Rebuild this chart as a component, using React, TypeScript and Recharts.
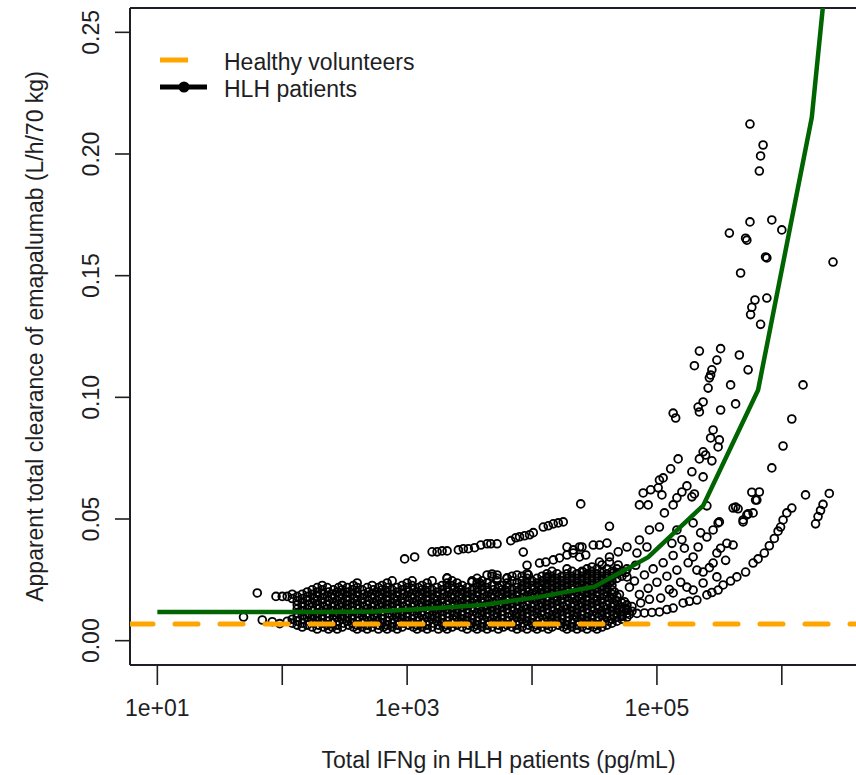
import React from "react";
import { ComposedChart, Scatter, Line, XAxis, YAxis, ReferenceLine } from "recharts";

const WIDTH = 856;
const HEIGHT = 775;
const FONT = '"Liberation Sans", Arial, sans-serif';
const INK = "#1e1e24";

const X_MIN = Math.pow(10, 0.781);
const X_MAX = Math.pow(10, 6.594);
const Y_MIN = -0.01;
const Y_MAX = 0.26;

const xTicks = [1e1, 1e2, 1e3, 1e4, 1e5, 1e6];
const xTickLabels: Record<number, string> = { 10: "1e+01", 1000: "1e+03", 100000: "1e+05" };
const yTicks = [0, 0.05, 0.1, 0.15, 0.2, 0.25];
const yTickLabels = ["0.00", "0.05", "0.10", "0.15", "0.20", "0.25"];

const healthyCl = 0.0068;

// model curve for HLH patients (log10 IFNg, CL)
const curveLogIfn = [1.0, 1.44, 1.87, 2.31, 2.75, 3.19, 3.62, 4.06, 4.5, 4.93, 5.37, 5.81, 6.24, 6.68];
const curveCl = [0.0118, 0.0118, 0.0118, 0.0118, 0.012, 0.0132, 0.0148, 0.018, 0.0222, 0.0343, 0.0555, 0.103, 0.215, 0.44];

// dense cloud, one row per CL level: [CL, log10 IFNg values]
const denseRows: [number, number[]][] = [
  [0.0048, [2.28, 2.37, 2.44, 2.6, 2.68, 2.77, 2.84, 2.92, 3.08, 3.16, 3.25, 3.32, 3.48, 3.56, 3.64, 3.73, 3.88, 3.96, 4.04, 4.13, 4.28, 4.36, 4.44, 4.52]],
  [0.0056, [2.16, 2.24, 2.33, 2.4, 2.48, 2.57, 2.64, 2.72, 2.81, 2.88, 2.96, 3.05, 3.12, 3.2, 3.29, 3.36, 3.44, 3.53, 3.6, 3.68, 3.77, 3.84, 3.92, 4.01, 4.08, 4.16, 4.25, 4.32, 4.4, 4.49, 4.56]],
  [0.0064, [2.12, 2.2, 2.29, 2.36, 2.44, 2.53, 2.6, 2.68, 2.77, 2.84, 2.92, 3.01, 3.08, 3.16, 3.25, 3.32, 3.4, 3.49, 3.56, 3.64, 3.73, 3.8, 3.88, 3.97, 4.04, 4.12, 4.21, 4.28, 4.36, 4.45, 4.52, 4.6]],
  [0.0072, [2.08, 2.16, 2.25, 2.32, 2.4, 2.49, 2.56, 2.64, 2.73, 2.8, 2.88, 2.97, 3.04, 3.12, 3.21, 3.28, 3.36, 3.45, 3.52, 3.6, 3.69, 3.76, 3.84, 3.93, 4.0, 4.08, 4.17, 4.24, 4.32, 4.41, 4.48, 4.56, 4.64]],
  [0.008, [2.04, 2.12, 2.21, 2.28, 2.36, 2.45, 2.52, 2.6, 2.69, 2.76, 2.84, 2.93, 3.0, 3.08, 3.17, 3.24, 3.32, 3.41, 3.48, 3.56, 3.65, 3.72, 3.8, 3.89, 3.96, 4.04, 4.13, 4.2, 4.28, 4.37, 4.44, 4.52, 4.61, 4.68]],
  [0.0088, [2.08, 2.17, 2.24, 2.32, 2.41, 2.48, 2.56, 2.65, 2.72, 2.8, 2.89, 2.96, 3.04, 3.13, 3.2, 3.28, 3.37, 3.44, 3.52, 3.61, 3.68, 3.76, 3.85, 3.92, 4.0, 4.09, 4.16, 4.24, 4.33, 4.4, 4.48, 4.57, 4.64, 4.72]],
  [0.0096, [2.12, 2.2, 2.28, 2.37, 2.44, 2.52, 2.61, 2.68, 2.76, 2.85, 2.92, 3.0, 3.09, 3.16, 3.24, 3.33, 3.4, 3.48, 3.57, 3.64, 3.72, 3.81, 3.88, 3.96, 4.05, 4.12, 4.2, 4.29, 4.36, 4.44, 4.53, 4.6, 4.68, 4.76]],
  [0.0104, [2.16, 2.24, 2.32, 2.41, 2.48, 2.56, 2.64, 2.73, 2.8, 2.88, 2.96, 3.05, 3.12, 3.2, 3.28, 3.37, 3.44, 3.52, 3.6, 3.69, 3.76, 3.84, 3.92, 4.01, 4.08, 4.16, 4.24, 4.33, 4.4, 4.48, 4.56, 4.65, 4.72]],
  [0.0113, [2.12, 2.21, 2.28, 2.36, 2.44, 2.53, 2.6, 2.68, 2.76, 2.85, 2.92, 3.0, 3.08, 3.17, 3.24, 3.32, 3.4, 3.49, 3.56, 3.64, 3.72, 3.81, 3.88, 3.96, 4.04, 4.13, 4.2, 4.28, 4.36, 4.45, 4.52, 4.6, 4.68, 4.76]],
  [0.0121, [2.16, 2.25, 2.32, 2.4, 2.48, 2.57, 2.64, 2.72, 2.8, 2.89, 2.96, 3.04, 3.12, 3.21, 3.28, 3.36, 3.44, 3.53, 3.6, 3.68, 3.76, 3.85, 3.92, 4.0, 4.08, 4.17, 4.24, 4.32, 4.4, 4.49, 4.56, 4.64, 4.72, 4.8]],
  [0.013, [2.12, 2.2, 2.29, 2.36, 2.44, 2.52, 2.61, 2.68, 2.76, 2.84, 2.93, 3.0, 3.08, 3.16, 3.25, 3.32, 3.4, 3.48, 3.57, 3.64, 3.72, 3.8, 3.89, 3.96, 4.04, 4.12, 4.21, 4.28, 4.36, 4.44, 4.53, 4.6, 4.68, 4.76]],
  [0.0138, [2.16, 2.24, 2.33, 2.4, 2.48, 2.56, 2.65, 2.72, 2.8, 2.88, 2.97, 3.04, 3.12, 3.2, 3.29, 3.36, 3.44, 3.52, 3.61, 3.68, 3.76, 3.84, 3.93, 4.0, 4.08, 4.16, 4.25, 4.32, 4.4, 4.48, 4.57, 4.64, 4.72]],
  [0.0147, [2.12, 2.21, 2.28, 2.36, 2.45, 2.52, 2.6, 2.68, 2.77, 2.84, 2.92, 3.0, 3.09, 3.16, 3.24, 3.32, 3.41, 3.48, 3.56, 3.64, 3.73, 3.8, 3.88, 3.96, 4.05, 4.12, 4.2, 4.28, 4.37, 4.44, 4.52, 4.6, 4.69, 4.76]],
  [0.0155, [2.16, 2.24, 2.32, 2.41, 2.48, 2.56, 2.64, 2.73, 2.8, 2.88, 2.96, 3.05, 3.12, 3.2, 3.28, 3.37, 3.44, 3.52, 3.6, 3.69, 3.76, 3.84, 3.92, 4.01, 4.08, 4.16, 4.24, 4.33, 4.4, 4.48, 4.56, 4.65, 4.72]],
  [0.0164, [2.12, 2.2, 2.28, 2.37, 2.44, 2.52, 2.6, 2.69, 2.76, 2.84, 2.92, 3.01, 3.08, 3.16, 3.24, 3.33, 3.4, 3.48, 3.56, 3.65, 3.72, 3.8, 3.88, 3.97, 4.04, 4.12, 4.2, 4.29, 4.36, 4.44, 4.52, 4.61, 4.68]],
  [0.0173, [2.08, 2.16, 2.25, 2.32, 2.4, 2.48, 2.57, 2.64, 2.72, 2.8, 2.89, 2.96, 3.04, 3.12, 3.21, 3.28, 3.36, 3.44, 3.53, 3.6, 3.68, 3.76, 3.85, 3.92, 4.0, 4.08, 4.17, 4.24, 4.32, 4.4, 4.49, 4.56, 4.64]],
  [0.0182, [1.95, 2.0, 2.04, 2.12, 2.2, 2.28, 2.36, 2.45, 2.52, 2.6, 2.68, 2.77, 2.84, 2.92, 3.0, 3.09, 3.16, 3.24, 3.32, 3.41, 3.48, 3.56, 3.64, 3.73, 3.8, 3.88, 3.96, 4.05, 4.12, 4.2, 4.28, 4.37, 4.44, 4.52, 4.6, 4.68]],
  [0.0191, [2.08, 2.16, 2.24, 2.33, 2.4, 2.48, 2.56, 2.65, 2.72, 2.8, 2.88, 2.97, 3.04, 3.12, 3.2, 3.29, 3.36, 3.44, 3.52, 3.61, 3.68, 3.76, 3.84, 3.93, 4.0, 4.08, 4.16, 4.25, 4.32, 4.4, 4.48, 4.57, 4.64]],
  [0.02, [2.2, 2.28, 2.37, 2.44, 2.52, 2.6, 2.69, 2.76, 2.84, 2.92, 3.01, 3.08, 3.16, 3.24, 3.33, 3.4, 3.48, 3.56, 3.65, 3.72, 3.8, 3.88, 3.97, 4.04, 4.12, 4.2, 4.29, 4.36, 4.44, 4.52, 4.6]],
  [0.0209, [2.24, 2.32, 2.41, 2.48, 2.56, 2.64, 2.73, 2.8, 2.88, 2.96, 3.05, 3.12, 3.2, 3.28, 3.37, 3.44, 3.52, 3.6, 3.69, 3.76, 3.84, 3.92, 4.01, 4.08, 4.16, 4.24, 4.33, 4.4, 4.48, 4.56, 4.64]],
  [0.0218, [2.28, 2.36, 2.45, 2.52, 2.6, 2.68, 2.77, 2.84, 2.92, 3.0, 3.09, 3.16, 3.24, 3.32, 3.41, 3.48, 3.56, 3.64, 3.73, 3.8, 3.88, 3.96, 4.05, 4.12, 4.2, 4.28, 4.37, 4.44, 4.52, 4.6]],
  [0.0227, [2.32, 2.48, 2.57, 2.72, 2.8, 2.96, 3.04, 3.12, 3.28, 3.36, 3.44, 3.6, 3.68, 3.76, 3.92, 4.0, 4.08, 4.16, 4.24, 4.32, 4.4, 4.48, 4.56, 4.64]],
  [0.0237, [2.6, 2.84, 3.0, 3.16, 3.32, 3.4, 3.56, 3.64, 3.8, 3.88, 3.96, 4.04, 4.12, 4.2, 4.28, 4.36, 4.44, 4.52, 4.6]],
  [0.0246, [2.88, 3.04, 3.2, 3.36, 3.52, 3.6, 3.72, 3.84, 3.92, 4.0, 4.08, 4.16, 4.24, 4.32, 4.4, 4.48, 4.56, 4.64]],
  [0.0256, [3.32, 3.56, 3.72, 3.8, 3.96, 4.04, 4.12, 4.2, 4.28, 4.36, 4.44, 4.52, 4.6, 4.68]],
  [0.0265, [3.68, 3.84, 3.92, 4.08, 4.16, 4.24, 4.32, 4.4, 4.48, 4.56, 4.64, 4.72]],
  [0.0275, [3.96, 4.12, 4.2, 4.28, 4.36, 4.44, 4.52, 4.6, 4.68]],
  [0.0285, [4.16, 4.32, 4.4, 4.48, 4.56, 4.64, 4.72]],
  [0.0295, [4.28, 4.44, 4.52, 4.6, 4.68, 4.76]],
];

// remaining patients as [log10 IFNg, CL]
const leftStragglers = [
  [1.8, 0.0196], [1.69, 0.0097], [1.84, 0.0085], [1.92, 0.0078], [1.98, 0.007],
];

const upperBand = [
  [2.98, 0.0336], [3.06, 0.0344], [3.2, 0.0365], [3.24, 0.0365], [3.28, 0.0369], [3.32, 0.0369],
  [3.41, 0.0373], [3.45, 0.0378], [3.49, 0.0378], [3.54, 0.0382], [3.59, 0.0393], [3.64, 0.0398],
  [3.67, 0.0398], [3.72, 0.0398], [3.83, 0.0411], [3.87, 0.0423], [3.9, 0.0427], [3.94, 0.0431],
  [3.98, 0.0435], [4.01, 0.0444], [4.09, 0.0467], [4.13, 0.0472], [4.17, 0.048], [4.21, 0.0484],
  [4.25, 0.0488], [4.39, 0.0562],
];

const middleBand = [
  [3.93, 0.0364], [3.96, 0.031], [4.06, 0.0319], [4.11, 0.0323], [4.17, 0.0332], [4.22, 0.034],
  [4.28, 0.0352], [4.33, 0.036], [4.38, 0.0344], [4.43, 0.0352], [4.4, 0.0385], [4.54, 0.0393],
  [4.6, 0.0401], [4.56, 0.0311], [4.62, 0.0323], [4.69, 0.0311], [4.65, 0.0278], [4.76, 0.0262],
  [3.64, 0.027], [3.68, 0.0274], [3.72, 0.027], [3.8, 0.0258], [3.88, 0.027], [3.97, 0.027],
  [4.12, 0.0262], [3.32, 0.0258], [3.52, 0.0241], [3.58, 0.0237],
  [4.28, 0.0385], [4.33, 0.0373], [4.38, 0.0385], [4.49, 0.0393], [4.62, 0.047],
  [4.41, 0.0282], [4.48, 0.0303], [4.54, 0.0323], [4.62, 0.0344], [4.69, 0.0365], [4.76, 0.0385],
  [4.84, 0.036], [4.86, 0.0414], [4.92, 0.0385], [4.94, 0.0455], [5.02, 0.0467],
];

const steepBand = [
  [5.13, 0.0935], [5.15, 0.0915], [5.34, 0.094], [5.41, 0.1038], [5.37, 0.0981], [5.51, 0.0948],
  [5.63, 0.0973], [5.59, 0.1051], [5.45, 0.0866], [5.43, 0.0833], [5.5, 0.0825], [5.49, 0.0796],
  [5.37, 0.0776], [5.39, 0.0763], [5.34, 0.0747], [5.44, 0.0739], [5.17, 0.0747], [5.11, 0.0706],
  [5.05, 0.0669], [5.28, 0.0694], [5.24, 0.0636], [5.37, 0.0673], [5.2, 0.0611], [5.28, 0.0591],
  [5.3, 0.0603], [5.16, 0.0587], [5.13, 0.0558], [5.06, 0.0525], [5.4, 0.0554], [5.63, 0.0549],
  [5.65, 0.0542], [5.73, 0.0521], [5.69, 0.0488], [5.49, 0.0484], [5.29, 0.0484], [5.82, 0.0611],
  [5.79, 0.0578], [4.95, 0.062], [4.89, 0.0607], [5.04, 0.0599], [4.93, 0.0558], [4.86, 0.0558],
  [5.01, 0.0628], [5.02, 0.066], [5.92, 0.071], [6.01, 0.08], [6.08, 0.0911], [6.17, 0.1051],
  [6.19, 0.0599], [5.34, 0.119], [5.51, 0.12], [5.3, 0.113], [5.48, 0.1153], [5.66, 0.1174],
  [5.73, 0.1113], [5.44, 0.1113], [5.43, 0.1092], [5.42, 0.108], [5.785, 0.14], [5.88, 0.1408],
  [5.76, 0.137], [5.75, 0.134], [5.83, 0.13], [5.33, 0.096],
  [5.745, 0.2123], [5.85, 0.2037], [5.83, 0.1992], [5.82, 0.193], [5.745, 0.1721], [5.92, 0.1729],
  [6.0, 0.1688], [5.58, 0.1675], [5.71, 0.1654], [5.72, 0.1646], [5.87, 0.1577], [5.88, 0.1573],
  [5.67, 0.1511], [6.41, 0.1556],
];

const lowerBand = [
  [4.72, 0.01], [4.78, 0.0108], [4.84, 0.0112], [4.9, 0.0114], [4.96, 0.0116], [5.02, 0.0118],
  [5.08, 0.0128], [5.13, 0.0134], [5.21, 0.0155], [5.26, 0.0162], [5.32, 0.0167], [5.4, 0.0188],
  [5.44, 0.0198], [5.49, 0.0208], [5.53, 0.0229], [5.59, 0.0245], [5.64, 0.0262], [5.71, 0.0282],
  [5.77, 0.0319], [5.81, 0.0336], [5.86, 0.036], [5.9, 0.039], [5.94, 0.042], [5.97, 0.045],
  [5.99, 0.0467], [6.01, 0.0496], [6.04, 0.0525], [6.08, 0.0545], [6.27, 0.048], [6.29, 0.051],
  [6.31, 0.0535], [6.33, 0.056], [6.38, 0.0605],
];

const fanPoints = [
  [5.13, 0.0196], [5.24, 0.022], [5.29, 0.0208], [5.37, 0.0237], [5.48, 0.0262], [5.32, 0.029],
  [5.37, 0.0282], [5.29, 0.0344], [5.48, 0.036], [5.51, 0.038], [5.56, 0.04], [5.61, 0.0393],
  [5.45, 0.0319], [5.33, 0.0385], [5.4, 0.0426], [5.35, 0.0443], [5.45, 0.0455], [5.5, 0.0488],
  [5.61, 0.0545], [5.69, 0.0496], [5.72, 0.0517], [5.76, 0.061], [5.8, 0.0578], [5.77, 0.0525],
  [5.42, 0.03], [5.55, 0.033],
  [4.74, 0.016], [4.8, 0.014], [4.87, 0.0155], [4.94, 0.017], [4.7, 0.019], [4.78, 0.022],
  [4.82, 0.0245], [4.86, 0.019], [4.9, 0.027], [4.93, 0.0215], [4.97, 0.0295], [5.0, 0.024],
  [5.03, 0.0175], [5.05, 0.032], [5.08, 0.0265], [5.1, 0.021], [5.13, 0.035], [5.16, 0.029],
  [5.19, 0.024], [5.22, 0.038], [5.25, 0.032], [5.2, 0.0415], [5.16, 0.0455], [5.12, 0.04],
  [4.75, 0.028], [4.83, 0.031], [4.7, 0.013], [4.76, 0.0125], [4.66, 0.02], [4.62, 0.024],
];

const toPoint = (p: number[]) => ({ x: Math.pow(10, p[0]), y: p[1] });

const patientPoints = [
  ...denseRows.flatMap(([cl, xs]) => xs.map((lx) => toPoint([lx, cl]))),
  ...leftStragglers.map(toPoint),
  ...upperBand.map(toPoint),
  ...middleBand.map(toPoint),
  ...steepBand.map(toPoint),
  ...lowerBand.map(toPoint),
  ...fanPoints.map(toPoint),
];

const curveData = curveLogIfn.map((lx, i) => ({ x: Math.pow(10, lx), y: curveCl[i] }));
const healthyData = [
  { x: X_MIN, y: healthyCl },
  { x: X_MAX, y: healthyCl },
];

function OpenCircle(props: any) {
  const { cx, cy } = props;
  if (cx == null || cy == null) return <g />;
  return <circle cx={cx} cy={cy} r={3.9} fill="none" stroke="#000" strokeWidth={1.8} />;
}

function XTick({ x, payload }: any) {
  const label = xTickLabels[payload.value];
  if (!label) return <g />;
  return (
    <text x={x} y={716} textAnchor="middle" fontFamily={FONT} fontSize={23} fill={INK}>
      {label}
    </text>
  );
}

function YTick({ y, payload }: any) {
  const i = yTicks.indexOf(payload.value);
  return (
    <text
      x={99}
      y={y}
      transform={`rotate(-90 99 ${y})`}
      textAnchor="middle"
      fontFamily={FONT}
      fontSize={23}
      fill={INK}
    >
      {yTickLabels[i]}
    </text>
  );
}

export default function App() {
  return (
    <div style={{ position: "relative", width: WIDTH, height: HEIGHT, background: "#fff" }}>
      <style>{`html,body{margin:0;padding:0;overflow:hidden;background:#fff}`}</style>
      <ComposedChart width={WIDTH} height={HEIGHT} margin={{ top: 8, right: 0, bottom: 0, left: 0 }}>
        <XAxis
          dataKey="x"
          type="number"
          scale="log"
          domain={[X_MIN, X_MAX]}
          allowDataOverflow
          ticks={xTicks}
          interval={0}
          height={110}
          tickSize={20}
          tickLine={{ stroke: INK, strokeWidth: 1.6 }}
          axisLine={{ stroke: INK, strokeWidth: 2 }}
          tick={<XTick />}
        />
        <YAxis
          dataKey="y"
          type="number"
          domain={[Y_MIN, Y_MAX]}
          allowDataOverflow
          ticks={yTicks}
          interval={0}
          width={130}
          tickSize={15}
          tickLine={{ stroke: INK, strokeWidth: 1.6 }}
          axisLine={{ stroke: INK, strokeWidth: 2 }}
          tick={<YTick />}
        />
        <ReferenceLine y={Y_MAX} stroke={INK} strokeWidth={2} />
        <Scatter data={patientPoints} dataKey="y" shape={OpenCircle} isAnimationActive={false} />
        <Line
          data={healthyData}
          dataKey="y"
          type="linear"
          stroke="#FFA500"
          strokeWidth={5}
          strokeDasharray="23 22"
          strokeLinecap="round"
          dot={false}
          activeDot={false}
          isAnimationActive={false}
          zIndex={700}
        />
        <Line
          data={curveData}
          dataKey="y"
          type="linear"
          stroke="#006400"
          strokeWidth={4.5}
          dot={false}
          activeDot={false}
          isAnimationActive={false}
          zIndex={700}
        />
      </ComposedChart>
      <svg
        width={WIDTH}
        height={HEIGHT}
        style={{ position: "absolute", left: 0, top: 0, pointerEvents: "none" }}
        fontFamily={FONT}
        fontSize={23}
        fill={INK}
      >
        <line x1={160} y1={60} x2={188} y2={60} stroke="#FFA500" strokeWidth={5} />
        <line x1={160} y1={87} x2={207} y2={87} stroke="#000" strokeWidth={5} />
        <circle cx={184} cy={87} r={5.5} fill="#000" />
        <text x={224} y={69.5}>Healthy volunteers</text>
        <text x={224} y={96.5}>HLH patients</text>
        <text x={498.5} y={768} textAnchor="middle">
          Total IFNg in HLH patients (pg/mL)
        </text>
        <text x={43} y={336.5} textAnchor="middle" transform="rotate(-90 43 336.5)">
          Apparent total clearance of emapalumab (L/h/70 kg)
        </text>
      </svg>
    </div>
  );
}
